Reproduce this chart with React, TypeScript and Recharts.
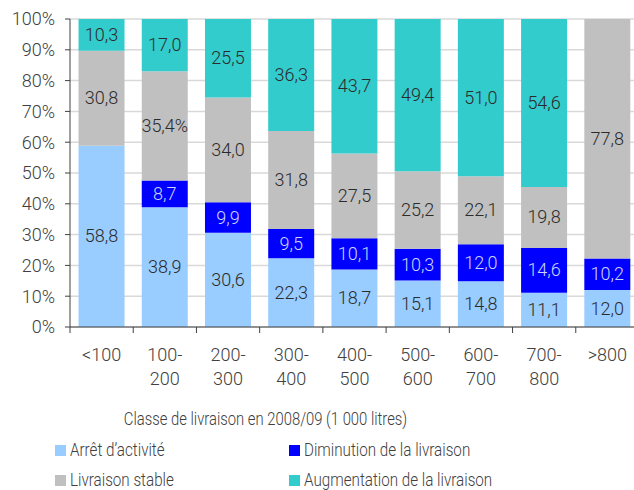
import { Bar, BarChart, CartesianGrid, LabelList, XAxis, YAxis } from 'recharts'

const classes = ['<100', '100-\n200', '200-\n300', '300-\n400', '400-\n500', '500-\n600', '600-\n700', '700-\n800', '>800']
const arret = [58.8, 38.9, 30.6, 22.3, 18.7, 15.1, 14.8, 11.1, 12.0]
const diminution = [0, 8.7, 9.9, 9.5, 10.1, 10.3, 12.0, 14.6, 10.2]
const stable = [30.8, 35.4, 34.0, 31.8, 27.5, 25.2, 22.1, 19.8, 77.8]
const stableSuffix = ['', '%', '', '', '', '', '', '', '']
const augmentation = [10.3, 17.0, 25.5, 36.3, 43.7, 49.4, 51.0, 54.6, 0]
const yTicks = [0, 0.1, 0.2, 0.3, 0.4, 0.5, 0.6, 0.7, 0.8, 0.9, 1]

const seriesNames = ['Arrêt d’activité', 'Diminution de la livraison', 'Livraison stable', 'Augmentation de la livraison']
const COLORS = ['#99ccff', '#0000ff', '#c0c0c0', '#33cccc']
const TEXT = '#404040'
const DARK = '#2b2b2b'
const AXIS = '#404040'
const FONT = 'Roboto, sans-serif'

const data = classes.map((c, i) => ({
  name: c,
  arret: arret[i],
  diminution: diminution[i],
  stable: stable[i],
  augmentation: augmentation[i],
}))

const fmt = (v: number) => v.toFixed(1).replace('.', ',')

const segLabel = (color: string, suffixes?: string[]) => (props: any) => {
  const { x, y, width, height, value, index } = props
  if (!value) return null
  const s = suffixes ? suffixes[index] : ''
  return (
    <text x={x + width / 2} y={y + height / 2} dy={6} textAnchor="middle" fill={color} fontSize={18} fontWeight={300} fontFamily={FONT}>
      {fmt(value) + s}
    </text>
  )
}

const CategoryTick = (props: any) => {
  const { x, y, payload } = props
  const lines = String(payload.value).split('\n')
  const edge = x - (payload.offset ?? 0)
  return (
    <g>
      <line x1={edge} y1={y - 6} x2={edge} y2={y} stroke={AXIS} />
      <text x={x} y={y} textAnchor="middle" fill={TEXT} fontSize={18} fontWeight={300} fontFamily={FONT}>
        {lines.map((l, i) => (
          <tspan key={i} x={x} dy={i === 0 ? 28 : 24}>{l}</tspan>
        ))}
      </text>
    </g>
  )
}

export default function App() {
  return (
    <div style={{ position: 'absolute', left: 0, top: 0, width: 634, height: 490, background: '#fff', fontFamily: FONT }}>
      <BarChart
        width={634}
        height={490}
        data={data}
        stackOffset="expand"
        barCategoryGap="13.5%"
        margin={{ top: 19, right: -5, left: 0, bottom: 83 }}
      >
        <CartesianGrid vertical={false} stroke="#d9d9d9" strokeWidth={1.5} />
        <XAxis
          dataKey="name"
          interval={0}
          height={80}
          tickLine={false}
          tickSize={6}
          tickMargin={0}
          axisLine={{ stroke: AXIS }}
          tick={<CategoryTick />}
        />
        <YAxis
          domain={[0, 1]}
          ticks={yTicks}
          width={70}
          tickSize={5}
          tickMargin={10}
          axisLine={{ stroke: AXIS }}
          tickLine={{ stroke: AXIS }}
          tickFormatter={(v: number) => `${Math.round(v * 100)}%`}
          tick={{ fill: TEXT, fontSize: 18, fontWeight: 300, fontFamily: FONT }}
        />
        <Bar dataKey="arret" stackId="a" fill={COLORS[0]} isAnimationActive={false}>
          <LabelList dataKey="arret" content={segLabel(DARK)} />
        </Bar>
        <Bar dataKey="diminution" stackId="a" fill={COLORS[1]} isAnimationActive={false}>
          <LabelList dataKey="diminution" content={segLabel('#ccd4ff')} />
        </Bar>
        <Bar dataKey="stable" stackId="a" fill={COLORS[2]} isAnimationActive={false}>
          <LabelList dataKey="stable" content={segLabel(DARK, stableSuffix)} />
        </Bar>
        <Bar dataKey="augmentation" stackId="a" fill={COLORS[3]} isAnimationActive={false}>
          <LabelList dataKey="augmentation" content={segLabel(DARK)} />
        </Bar>
      </BarChart>
      <div
        style={{
          position: 'absolute', left: 0, width: 531, top: 408, textAlign: 'center',
          fontSize: 19, fontWeight: 300, color: TEXT, lineHeight: '22px',
          transform: 'scaleX(0.78)', transformOrigin: '265.5px 50%', whiteSpace: 'nowrap',
        }}
      >
        Classe de livraison en 2008/09 (1 000 litres)
      </div>
      {seriesNames.map((n, i) => (
        <div
          key={n}
          style={{
            position: 'absolute',
            left: i % 2 === 0 ? 55 : 289,
            top: i < 2 ? 439 : 469,
            display: 'flex',
            alignItems: 'center',
            fontSize: 19,
            fontWeight: 300,
            color: TEXT,
            lineHeight: '22px',
            whiteSpace: 'nowrap',
          }}
        >
          <span style={{ display: 'inline-block', width: 11, height: 11, background: COLORS[i], marginRight: 4 }} />
          <span style={{ display: 'inline-block', transform: 'scaleX(0.8)', transformOrigin: '0 50%' }}>{n}</span>
        </div>
      ))}
    </div>
  )
}
